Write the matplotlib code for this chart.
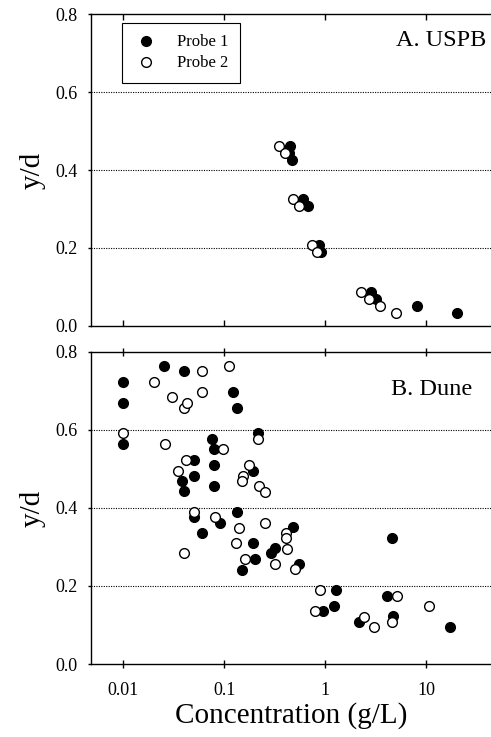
import numpy as np
import matplotlib
matplotlib.use("Agg")
from matplotlib import pyplot as plt

plt.rcParams['font.family'] = ['Liberation Serif', 'DejaVu Serif']

# A. USPB
uspb_c1 = [0.446, 0.44, 0.47, 0.60, 0.67, 0.87, 0.91, 2.8, 3.17, 8.0, 20.2]
uspb_y1 = [0.462, 0.444, 0.427, 0.325, 0.308, 0.207, 0.189, 0.086, 0.069, 0.051, 0.034]
uspb_c2 = [0.35, 0.40, 0.48, 0.55, 0.73, 0.82, 2.23, 2.69, 3.5, 5.0]
uspb_y2 = [0.462, 0.445, 0.325, 0.308, 0.207, 0.189, 0.086, 0.069, 0.051, 0.034]

# B. Dune
dune_c1 = [0.01, 0.01, 0.01, 0.0252, 0.040, 0.0504, 0.0378, 0.0504, 0.040, 0.0504,
           0.060, 0.0749, 0.0795, 0.078, 0.0795, 0.0904, 0.1225, 0.134, 0.214, 0.19,
           0.132, 0.19, 0.201, 0.150, 0.287, 0.317, 0.474, 0.552,
           1.27, 1.22, 0.94, 4.53, 4.04, 4.70, 2.17, 16.9]
dune_y1 = [0.723, 0.669, 0.563, 0.763, 0.751, 0.523, 0.469, 0.482, 0.443, 0.376,
           0.336, 0.576, 0.550, 0.509, 0.456, 0.362, 0.696, 0.655, 0.591, 0.494,
           0.389, 0.309, 0.268, 0.241, 0.284, 0.296, 0.350, 0.256,
           0.190, 0.149, 0.136, 0.322, 0.175, 0.123, 0.108, 0.096]
dune_c2 = [0.01, 0.0201, 0.0303, 0.040, 0.0424, 0.060, 0.060, 0.0258, 0.0417, 0.035,
           0.0504, 0.040, 0.0807, 0.096, 0.111, 0.153, 0.149, 0.174, 0.217, 0.222,
           0.252, 0.141, 0.130, 0.161, 0.254, 0.315, 0.407, 0.404, 0.414, 0.503,
           0.885, 0.789, 5.08, 2.43, 3.05, 4.53, 10.5]
dune_y2 = [0.591, 0.723, 0.683, 0.655, 0.670, 0.751, 0.696, 0.563, 0.523, 0.495,
           0.390, 0.284, 0.377, 0.550, 0.763, 0.482, 0.470, 0.509, 0.576, 0.456,
           0.441, 0.349, 0.309, 0.268, 0.362, 0.256, 0.336, 0.322, 0.295, 0.243,
           0.190, 0.136, 0.175, 0.121, 0.096, 0.108, 0.149]

xticks = [0.01, 0.1, 1, 10]
xticklabels = ['0.01', '0.1', '1', '10']
yticks = [0.0, 0.2, 0.4, 0.6, 0.8]

fig = plt.figure(figsize=(4.91, 7.37), dpi=100)
axA = fig.add_axes([0.1853, 0.558, 0.8147, 0.4225])
axB = fig.add_axes([0.1853, 0.099, 0.8147, 0.4237])


def setup(ax, bottom_labels):
    ax.set_xscale('log')
    ax.set_xlim(0.00478, 43.5)
    ax.set_ylim(0, 0.8)
    ax.set_xticks(xticks)
    ax.xaxis.set_minor_locator(matplotlib.ticker.NullLocator())
    ax.set_yticks(yticks)
    ax.set_yticklabels(['%.1f' % v for v in yticks])
    # lineas punteadas horizontales
    for yv in [0.2, 0.4, 0.6]:
        ax.axhline(yv, color='black', lw=0.8, ls=(0, (1, 1.2)), zorder=1)
    ax.spines['right'].set_visible(False)
    for s in ['left', 'bottom', 'top']:
        ax.spines[s].set_linewidth(1.0)
    ax.tick_params(axis='y', direction='out', length=2.5, width=1, labelsize=13, pad=7)
    ax.tick_params(axis='x', which='both', top=True, labelsize=13)
    if bottom_labels:
        ax.set_xticklabels(xticklabels)
        ax.tick_params(axis='x', direction='inout', length=6, width=1, pad=10)
        ax.set_xlabel('Concentration (g/L)', fontsize=21, labelpad=2)
    else:
        ax.set_xticklabels([])
        ax.tick_params(axis='x', direction='in', length=4, width=1)
    ax.set_ylabel('y/d', fontsize=21, labelpad=7)


setup(axA, False)
setup(axB, True)

axA.plot(uspb_c1, uspb_y1, 'o', ms=7, mfc='black', mec='black', mew=1, label='Probe 1', zorder=3)
axA.plot(uspb_c2, uspb_y2, 'o', ms=7, mfc='white', mec='black', mew=1, label='Probe 2', zorder=3)
axB.plot(dune_c1, dune_y1, 'o', ms=7, mfc='black', mec='black', mew=1, zorder=3)
axB.plot(dune_c2, dune_y2, 'o', ms=7, mfc='white', mec='black', mew=1, zorder=3)

axA.text(0.988, 0.915, 'A. USPB', transform=axA.transAxes, ha='right', va='center', fontsize=17.5)
axB.text(0.953, 0.88, 'B. Dune', transform=axB.transAxes, ha='right', va='center', fontsize=17.5)

leg = axA.legend(loc='upper left', bbox_to_anchor=(0.078, 0.973), fontsize=12, frameon=True,
                 fancybox=False, edgecolor='black', framealpha=1, labelspacing=0.3,
                 handletextpad=1.1, borderpad=0.7, handlelength=1.5, borderaxespad=0)
leg.get_frame().set_linewidth(0.8)

fig.savefig('out.png', dpi=100)
